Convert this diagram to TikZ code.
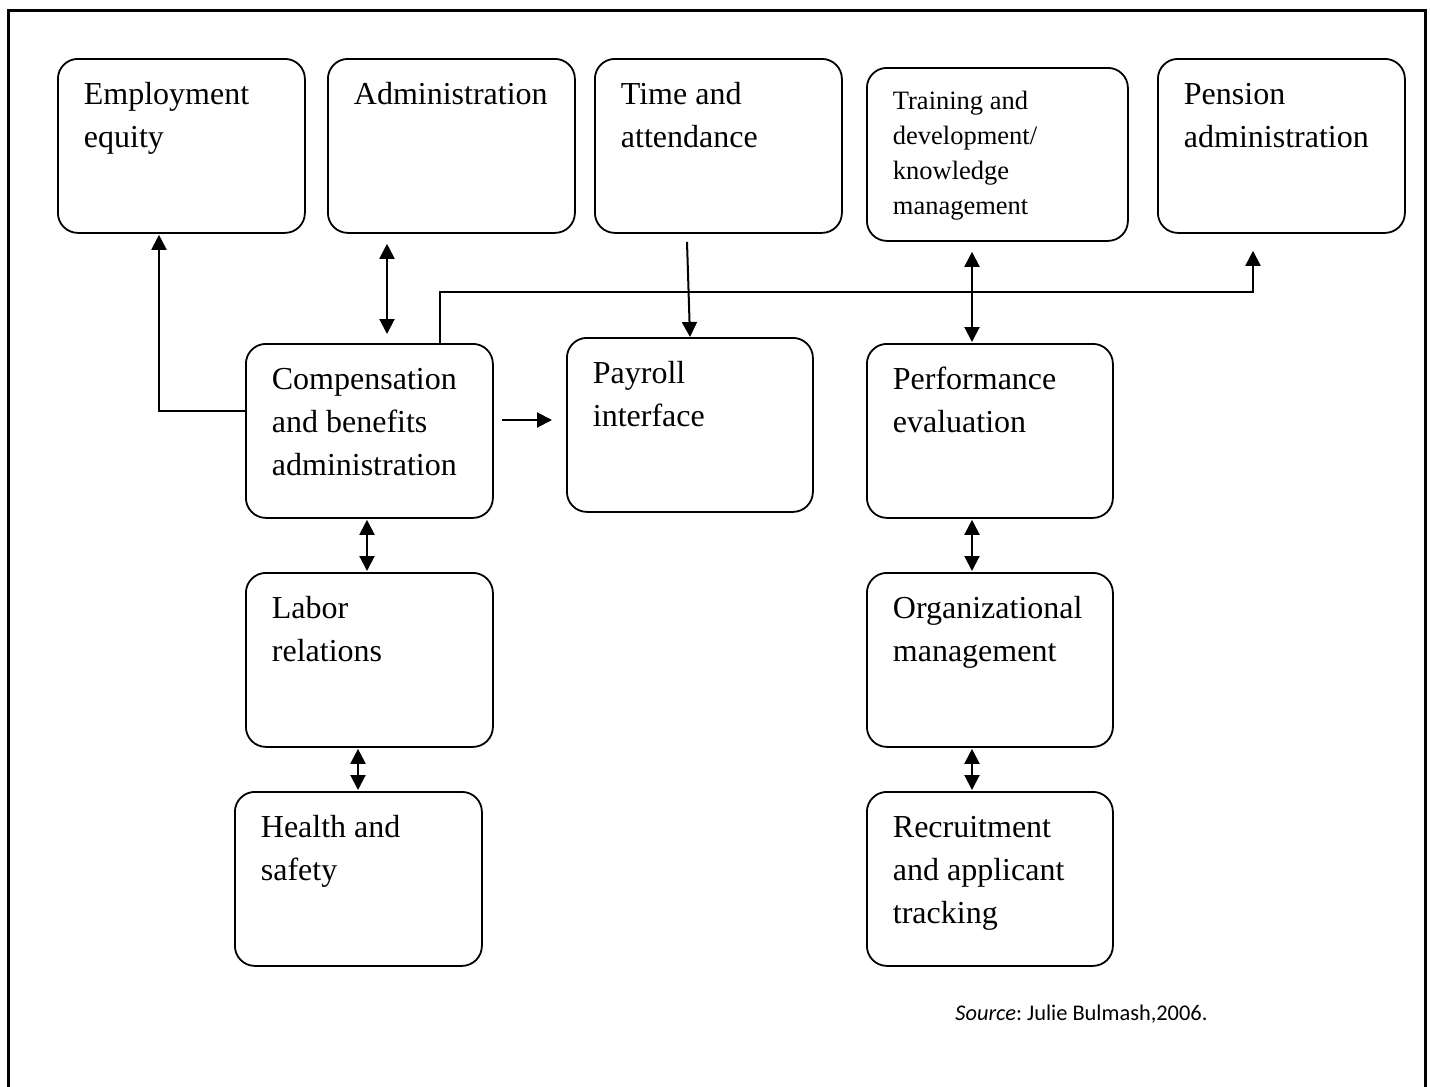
\documentclass[tikz,border=0pt]{standalone}
\usepackage{fontspec}
\setmainfont{Liberation Serif}
\newfontfamily\srcfont{Carlito}
\usetikzlibrary{arrows.meta,calc}
\newcommand{\boxcontent}[3]{\parbox[t][#1][t]{#2}{\raggedright\strut #3}}
\begin{document}
\begin{tikzpicture}[x=0.5pt,y=-0.5pt,
  hrbox/.style={draw, line width=0.9pt, rounded corners=10pt, anchor=north west,
    inner xsep=13pt, inner ysep=7.5pt, align=left,
    font=\fontsize{16}{21.5}\selectfont},
  smallbox/.style={hrbox, inner ysep=8.25pt, font=\fontsize{13.25}{17.6}\selectfont},
  conn/.style={line width=1pt},
  arr/.style={conn, -{Triangle[length=7.5pt,width=7.5pt]}},
  darr/.style={conn, {Triangle[length=7.5pt,width=7.5pt]}-{Triangle[length=7.5pt,width=7.5pt]}},
  frame/.style={line width=1.5pt}]
\useasboundingbox (0,0) rectangle (1430,1087);
\draw[frame] (8,1087) |- (1425,10) -- (1425,1087);

% top row
\node[hrbox] (eq) at (57,58) {\boxcontent{72pt}{97.5pt}{Employment\\equity}};
\node[hrbox] (adm) at (327,58) {\boxcontent{72pt}{97.5pt}{Administration}};
\node[hrbox] (time) at (594,58) {\boxcontent{72pt}{97.5pt}{Time and\\attendance}};
\node[smallbox] (train) at (866,67) {\boxcontent{70pt}{104.5pt}{Training and\\development/\\knowledge\\management}};
\node[hrbox] (pen) at (1157,58) {\boxcontent{72pt}{97.5pt}{Pension\\administration}};

% middle row
\node[hrbox] (comp) at (245,343) {\boxcontent{72pt}{97.5pt}{Compensation\\and benefits\\administration}};
\node[hrbox] (pay) at (566,337) {\boxcontent{72pt}{97pt}{Payroll\\interface}};
\node[hrbox] (perf) at (866,343) {\boxcontent{72pt}{97pt}{Performance\\evaluation}};

% lower rows
\node[hrbox] (lab) at (245,572) {\boxcontent{72pt}{97.5pt}{Labor\\relations}};
\node[hrbox] (hs) at (234,791) {\boxcontent{72pt}{97.5pt}{Health and\\safety}};
\node[hrbox] (org) at (866,572) {\boxcontent{72pt}{97pt}{Organizational\\management}};
\node[hrbox] (rec) at (866,791) {\boxcontent{72pt}{97pt}{Recruitment\\and applicant\\tracking}};

% connectors
\draw[arr] ($(comp.north west)+(0,68)$) -| ($(eq.south west)+(102,1)$);
\draw[darr] ($(adm.south west)+(60,10)$) -- ($(comp.north west)+(142,-9)$);
\draw[arr] ($(comp.north west)+(195,0)$) -- ($(comp.north west)+(195,-51)$) -| ($(pen.south west)+(96,17)$);
\draw[darr] ($(train.south west)+(106,10)$) -- ($(perf.north west)+(106,-1)$);
\draw[arr] ($(time.south west)+(93,8)$) -- ($(pay.north west)+(124,0)$);
\draw[arr] ($(comp.north west)+(257,77)$) -- ($(pay.north west)+(-14,83)$);
\draw[darr] ($(comp.south west)+(122,1)$) -- ($(lab.north west)+(122,-1)$);
\draw[darr] ($(lab.south west)+(113,1)$) -- ($(hs.north west)+(124,-1)$);
\draw[darr] ($(perf.south west)+(106,1)$) -- ($(org.north west)+(106,-1)$);
\draw[darr] ($(org.south west)+(106,1)$) -- ($(rec.north west)+(106,-1)$);

\node[anchor=base west, inner sep=0pt, font=\srcfont\fontsize{11.2}{14}\selectfont] (src) at (955,1020) {\textit{Source}:\ Julie Bulmash,2006.};
\end{tikzpicture}
\end{document}
